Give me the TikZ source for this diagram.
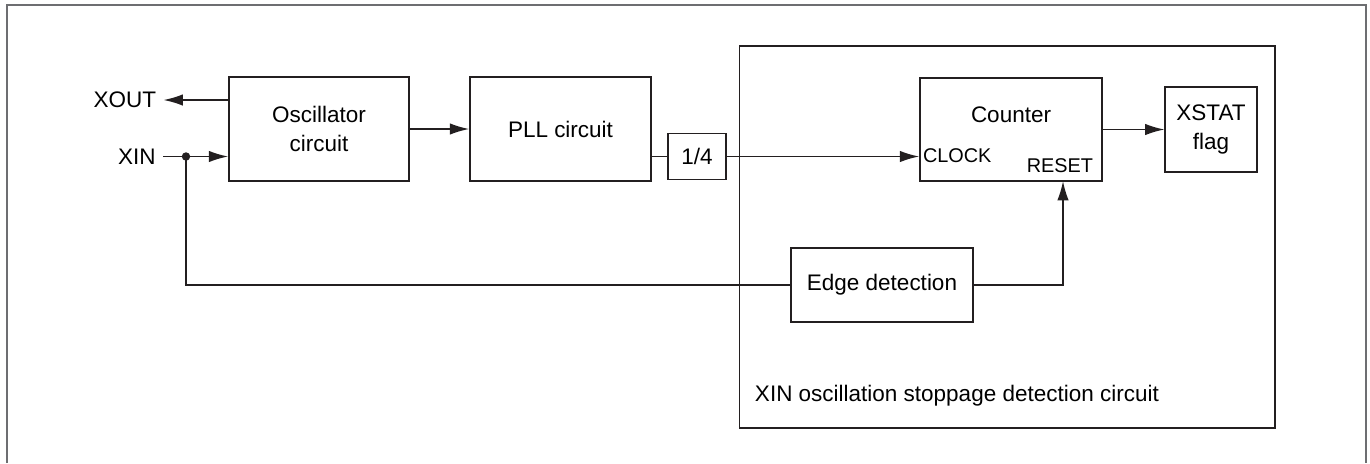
\documentclass[tikz,border=0pt]{standalone}
\usepackage{fontspec}
\setmainfont{Liberation Sans}
\usepackage{xcolor}
\usepackage{tikz}
\usetikzlibrary{arrows.meta,positioning,calc}
\definecolor{inkline}{HTML}{231F20}
\definecolor{framegray}{HTML}{6D6E71}
\tikzset{
  arr/.style={-{Latex[length=11pt,width=6.5pt]},line width=0.9pt,inkline},
  wire/.style={line width=0.9pt,inkline},
  box/.style={rectangle,draw=inkline,line width=0.9pt,align=center,
    inner sep=0pt,font=\fontsize{12.8}{16.5}\selectfont},
  pin/.style={inner sep=1.5pt,font=\fontsize{11.3}{14}\selectfont},
  lbl/.style={inner sep=1.5pt,font=\fontsize{12.8}{16.5}\selectfont},
}
\begin{document}
\begin{tikzpicture}[line join=miter]
\useasboundingbox (0,0) rectangle (27.4,-9.26);
\draw[framegray,line width=0.9pt] (0.14,-9.26) -- (0.14,-0.1) -- (27.32,-0.1) -- (27.32,-9.26);

\node[box,minimum width=10.71cm,minimum height=7.64cm] (detect) at (20.145,-4.74) {};
\node[lbl,anchor=west] (detlbl) at (15.04,-7.92) {XIN oscillation stoppage detection circuit};

\node[box,minimum width=3.6cm,minimum height=2.08cm] (osc) at (6.38,-2.58) {Oscillator\\circuit};
\node[box,minimum width=3.62cm,minimum height=2.08cm] (pll) at (11.21,-2.58) {PLL circuit};
\node[box,minimum width=1.16cm,minimum height=0.92cm] (div) at (13.94,-3.13) {1/4};
\node[box,minimum width=3.64cm,minimum height=2.06cm] (cnt) at (20.22,-2.59) {};
\node[lbl,anchor=center] (cnttxt) at (20.22,-2.3) {Counter};
\node[pin,anchor=west] (clock) at (18.4,-3.11) {CLOCK};
\node[pin,anchor=east] (reset) at (21.92,-3.32) {RESET};
\node[box,minimum width=1.83cm,minimum height=1.7cm] (xstat) at (24.22,-2.59) {XSTAT\\flag};
\node[box,minimum width=3.64cm,minimum height=1.48cm] (edge) at (17.64,-5.7) {Edge detection};

\node[lbl,inner xsep=4pt,anchor=east] (xout) at (3.27,-2.0) {XOUT};
\node[lbl,inner xsep=4pt,anchor=east] (xin) at (3.26,-3.13) {XIN};
\coordinate (tap) at (3.72,-3.13);
\coordinate (rst) at (21.26,-3.62);

\draw[arr] (osc.west|-xout.east) -- (xout.east);
\draw[arr] (xin.east) -- (osc.west|-xin.east);
\fill[inkline] (tap) circle (2.4pt);
\draw[arr] (osc.east) -- (pll.west);
\draw[wire] (pll.east|-div.west) -- (div.west);
\draw[arr] (div.east) -- (cnt.west|-div.east);
\draw[arr] (cnt.east) -- (xstat.west);
\draw[wire] (tap) |- (edge.west);
\draw[arr] (edge.east) -| (rst);
\end{tikzpicture}
\end{document}
